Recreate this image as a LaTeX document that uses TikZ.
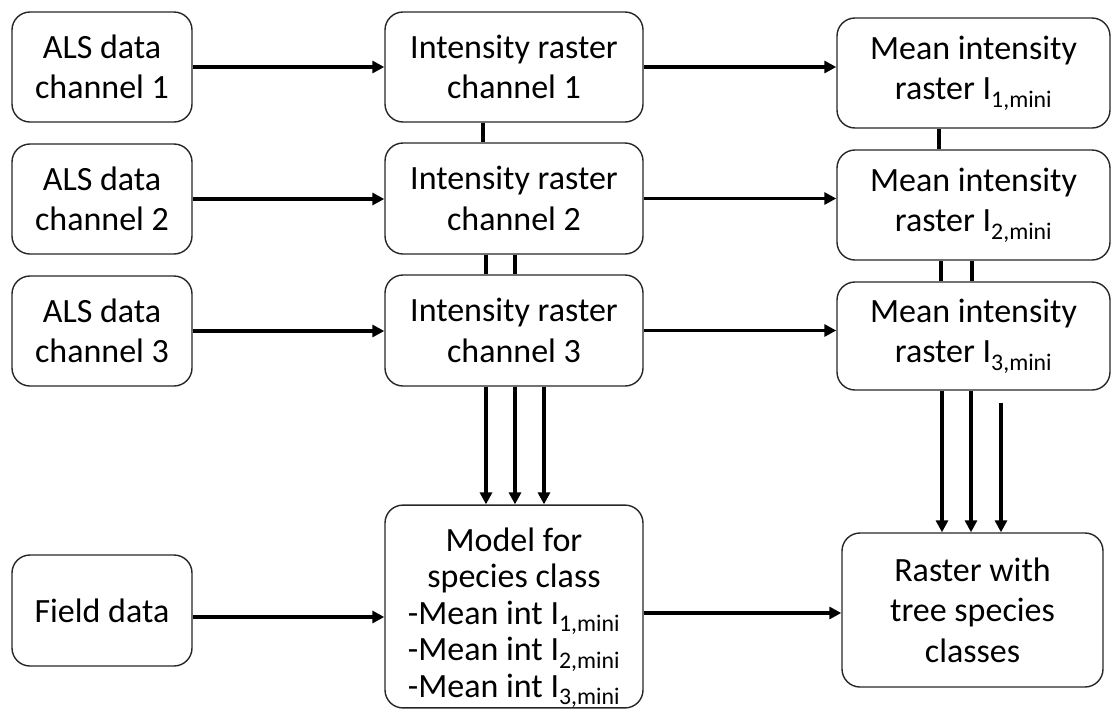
\documentclass[tikz,border=0pt]{standalone}
\usepackage{fontspec}
\setmainfont{Carlito}
\usetikzlibrary{arrows.meta}
\begin{document}
\begin{tikzpicture}[x=1pt,y=-1pt,
  box/.style={draw=black!85, line width=1.4pt, rounded corners=18pt, align=center,
    inner sep=0pt, font=\fontsize{34}{40.5}\selectfont},
  flow/.style={line width=3.6pt, -{Triangle[length=12pt,width=12pt]}},
  link/.style={line width=3.6pt}]
\useasboundingbox (0,0) rectangle (1112,710);
% left column
\node[box, minimum width=180pt, minimum height=110pt] (als1) at (102,67) {ALS data\\channel 1};
\node[box, minimum width=180pt, minimum height=110pt] (als2) at (102,199) {ALS data\\channel 2};
\node[box, minimum width=180pt, minimum height=110pt] (als3) at (102,331) {ALS data\\channel 3};
\node[box, minimum width=180pt, minimum height=111pt] (field) at (102,610.5) {Field data};
% middle column
\node[box, minimum width=258pt, minimum height=110pt] (int1) at (514,67) {Intensity raster\\channel 1};
\node[box, minimum width=258pt, minimum height=111pt] (int2) at (514,198.5) {Intensity raster\\channel 2};
\node[box, minimum width=258pt, minimum height=111pt] (int3) at (514,330.5) {Intensity raster\\channel 3};
\node[box, minimum width=258pt, minimum height=197pt, font=\fontsize{34}{36.5}\selectfont] (model) at (514,606.5)
  {\rule{0pt}{46pt}Model for\\species class\\-Mean int I\textsubscript{1,mini}\\-Mean int I\textsubscript{2,mini}\\-Mean int I\textsubscript{3,mini}\rule[-10pt]{0pt}{10pt}};
% right column
\node[box, minimum width=273pt, minimum height=110pt] (mean1) at (973.5,73) {Mean intensity\\raster I\textsubscript{1,mini}};
\node[box, minimum width=273pt, minimum height=110pt] (mean2) at (973.5,205) {Mean intensity\\raster I\textsubscript{2,mini}};
\node[box, minimum width=273pt, minimum height=108pt] (mean3) at (973.5,336) {Mean intensity\\raster I\textsubscript{3,mini}};
\node[box, minimum width=261pt, minimum height=154pt] (raster) at (972.5,610) {Raster with\\tree species\\classes};
% horizontal arrows
\draw[flow] (als1.east) -- (als1.east -| int1.west);
\draw[flow] (als2.east) -- (als2.east -| int2.west);
\draw[flow] (als3.east) -- (als3.east -| int3.west);
\draw[flow] ([yshift=-6.5pt]field.east) -- ([yshift=-6.5pt]field.east -| model.west);
\draw[flow] (int1.east) -- (int1.east -| mean1.west);
\draw[flow] (int2.east) -- (int2.east -| mean2.west);
\draw[flow] (int3.east) -- (int3.east -| mean3.west);
\draw[flow] ([yshift=-6.5pt]model.east) -- ([yshift=-6.5pt]model.east -| raster.west);
% vertical links, middle
\draw[link] ([xshift=-31pt]int1.south) -- ([xshift=-31pt]int2.north);
\draw[link] ([xshift=-28pt]int2.south) -- ([xshift=-28pt]int3.north);
\draw[link] ([xshift=1pt]int2.south) -- ([xshift=1pt]int3.north);
\draw[flow] ([xshift=-28pt]int3.south) -- ([xshift=-28pt]model.north);
\draw[flow] ([xshift=1pt]int3.south) -- ([xshift=1pt]model.north);
\draw[flow] ([xshift=30pt]int3.south) -- ([xshift=30pt]model.north);
% vertical links, right
\draw[link] ([xshift=-34.5pt]mean1.south) -- ([xshift=-34.5pt]mean2.north);
\draw[link] ([xshift=-32.5pt]mean2.south) -- ([xshift=-32.5pt]mean3.north);
\draw[link] ([xshift=-1.5pt]mean2.south) -- ([xshift=-1.5pt]mean3.north);
\coordinate (ra) at ([xshift=-31.5pt]mean3.south);
\coordinate (rb) at ([xshift=-2.5pt]mean3.south);
\coordinate (rc) at ([xshift=27.5pt,yshift=-12pt]mean3.south);
\draw[flow] (ra) -- (ra |- raster.north);
\draw[flow] (rb) -- (rb |- raster.north);
\draw[flow] (rc) -- (rc |- raster.north);
\end{tikzpicture}
\end{document}
